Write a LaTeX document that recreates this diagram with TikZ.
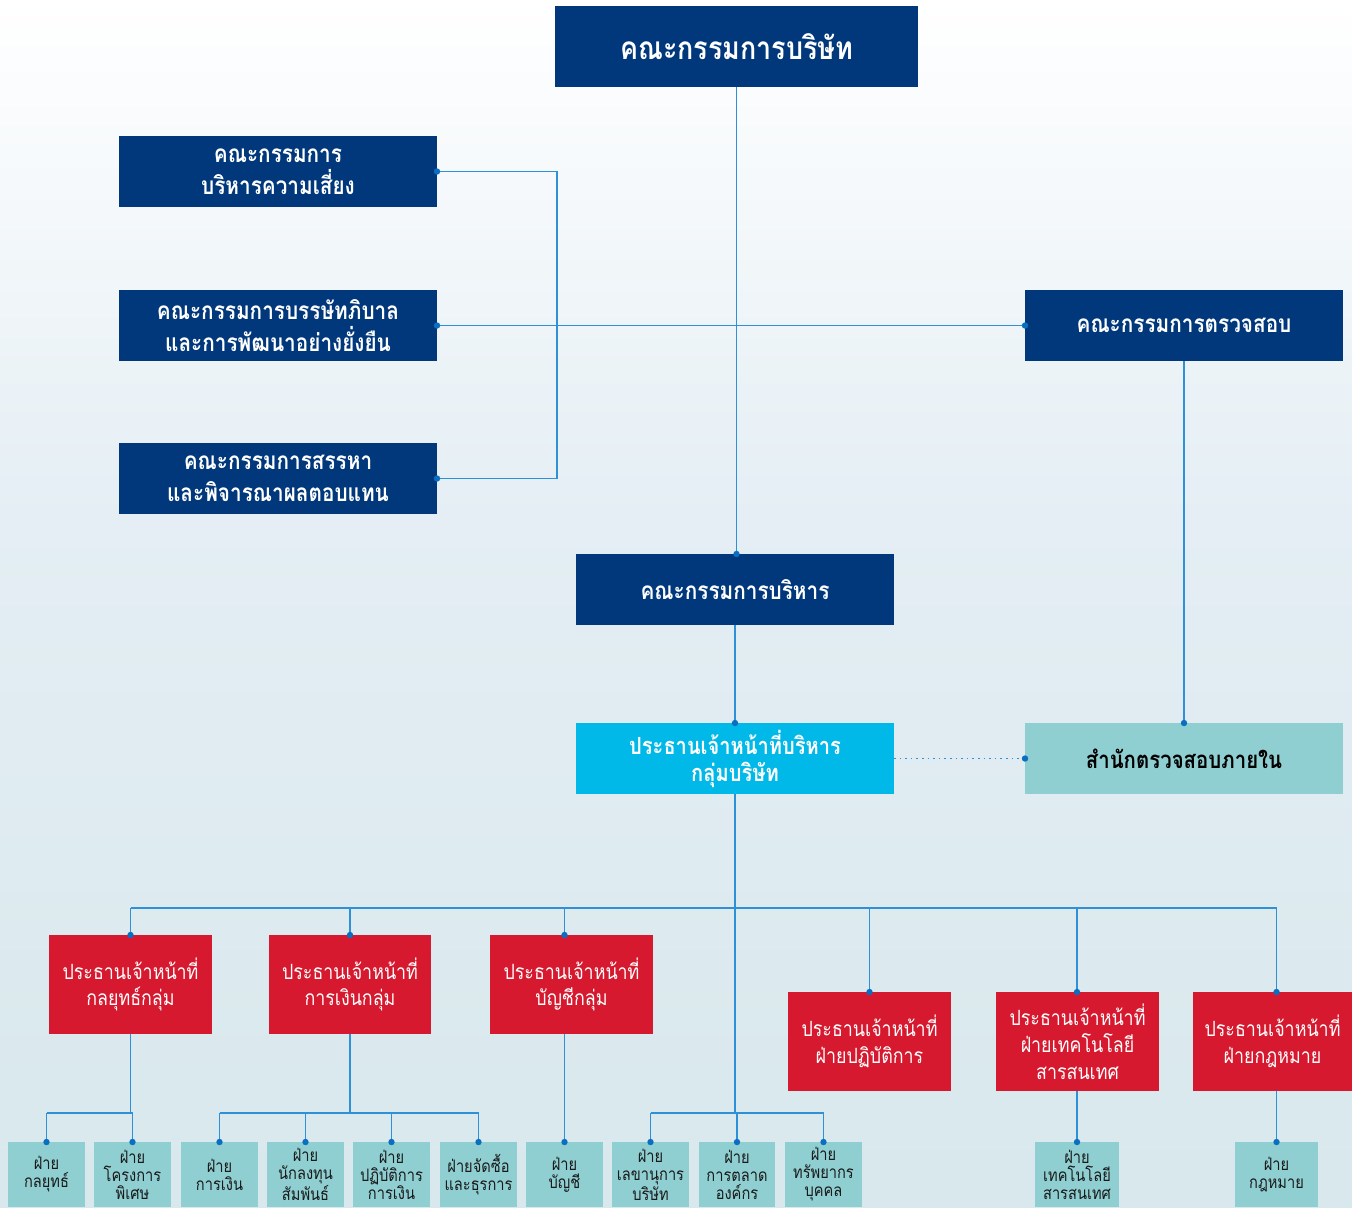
\documentclass[tikz,border=0pt]{standalone}
\usepackage{fontspec}
\newfontfamily\thai[Script=Thai,FakeStretch=0.85]{Loma}
\definecolor{navy}{HTML}{00387B}
\definecolor{redc}{HTML}{D6192E}
\definecolor{cyanc}{HTML}{00B9E8}
\definecolor{tealc}{HTML}{8FCFD2}
\definecolor{linec}{HTML}{2E90D6}
\definecolor{dotc}{HTML}{0B6FC1}
\definecolor{bgmid}{HTML}{E4EEF4}
\definecolor{bgbot}{HTML}{D8E8EC}
\newcommand\mkbox[7]{\node[#6, minimum width={(#4-#2)*0.5pt}, minimum height={(#5-#3)*0.5pt}] (#1) at ({(#2+#4)/2},{(#3+#5)/2}) {#7};}
\newcommand\dt[1]{\fill[dotc] (#1) circle (3.2);}
\begin{document}
\begin{tikzpicture}[x=0.5pt,y=-0.5pt,
  box/.style={inner sep=0pt, outer sep=0pt, align=center},
  navybox/.style={box, fill=navy, text=white},
  bigbox/.style={navybox, font={\thai\bfseries\fontsize{15.8}{18}\selectfont}},
  combox/.style={navybox, font={\thai\bfseries\fontsize{12.2}{16}\selectfont}},
  ceobox/.style={box, fill=cyanc, text=white, font={\thai\bfseries\fontsize{11.8}{13.5}\selectfont}},
  iabox/.style={box, fill=tealc, text=black, font={\thai\bfseries\fontsize{12}{13.5}\selectfont}},
  redbox/.style={box, fill=redc, text=white, font={\thai\fontsize{10.5}{13.4}\selectfont}},
  divbox/.style={box, fill=tealc, text=black!90, font={\thai\fontsize{8.6}{9}\selectfont}},
  conn/.style={draw=linec, line width=0.8pt},
  dotconn/.style={conn, dotted, line width=0.8pt}
]
\useasboundingbox (0,0) rectangle (1352,1207);
\shade[top color=white, bottom color=bgmid] (0,0) rectangle (1352,520);
\shade[top color=bgmid, bottom color=bgbot] (0,520) rectangle (1352,1207);

% top level
\mkbox{board}{555}{6}{918}{87}{bigbox}{คณะกรรมการบริษัท}
\mkbox{risk}{119}{136}{437}{207}{combox}{คณะกรรมการ\\บริหารความเสี่ยง}
\mkbox{gov}{119}{290}{437}{361}{combox}{คณะกรรมการบรรษัทภิบาล\\และการพัฒนาอย่างยั่งยืน}
\mkbox{nom}{119}{443}{437}{514}{combox}{คณะกรรมการสรรหา\\และพิจารณาผลตอบแทน}
\mkbox{audit}{1025}{290}{1343}{361}{combox}{คณะกรรมการตรวจสอบ}
\mkbox{exec}{576}{554}{894}{625}{combox}{คณะกรรมการบริหาร}
\mkbox{ceo}{576}{723}{894}{794}{ceobox}{ประธานเจ้าหน้าที่บริหาร\\กลุ่มบริษัท}
\mkbox{ia}{1025}{723}{1343}{794}{iabox}{สำนักตรวจสอบภายใน}

% chiefs
\mkbox{r1}{49}{935}{212}{1034}{redbox}{ประธานเจ้าหน้าที่\\กลยุทธ์กลุ่ม}
\mkbox{r2}{269}{935}{431}{1034}{redbox}{ประธานเจ้าหน้าที่\\การเงินกลุ่ม}
\mkbox{r3}{490}{935}{653}{1034}{redbox}{ประธานเจ้าหน้าที่\\บัญชีกลุ่ม}
\mkbox{r4}{788}{992}{951}{1091}{redbox}{ประธานเจ้าหน้าที่\\ฝ่ายปฏิบัติการ}
\mkbox{r5}{996}{992}{1159}{1091}{redbox}{ประธานเจ้าหน้าที่\\ฝ่ายเทคโนโลยี\\สารสนเทศ}
\mkbox{r6}{1193}{992}{1352}{1091}{redbox}{ประธานเจ้าหน้าที่\\ฝ่ายกฎหมาย}

% divisions
\mkbox{b1}{8}{1142}{85}{1207}{divbox}{ฝ่าย\\กลยุทธ์}
\mkbox{b2}{94}{1142}{171}{1207}{divbox}{ฝ่าย\\โครงการ\\พิเศษ}
\mkbox{b3}{181}{1142}{258}{1207}{divbox}{ฝ่าย\\การเงิน}
\mkbox{b4}{267}{1142}{344}{1207}{divbox}{ฝ่าย\\นักลงทุน\\สัมพันธ์}
\mkbox{b5}{353}{1142}{430}{1207}{divbox}{ฝ่าย\\ปฏิบัติการ\\การเงิน}
\mkbox{b6}{440}{1142}{517}{1207}{divbox}{ฝ่ายจัดซื้อ\\และธุรการ}
\mkbox{b7}{526}{1142}{603}{1207}{divbox}{ฝ่าย\\บัญชี}
\mkbox{b8}{612}{1142}{689}{1207}{divbox}{ฝ่าย\\เลขานุการ\\บริษัท}
\mkbox{b9}{699}{1142}{775}{1207}{divbox}{ฝ่าย\\การตลาด\\องค์กร}
\mkbox{b10}{785}{1142}{862}{1207}{divbox}{ฝ่าย\\ทรัพยากร\\บุคคล}
\mkbox{b11}{1035}{1142}{1119}{1207}{divbox}{ฝ่าย\\เทคโนโลยี\\สารสนเทศ}
\mkbox{b12}{1235}{1142}{1318}{1207}{divbox}{ฝ่าย\\กฎหมาย}

\coordinate (bus) at (0,908);
\coordinate (sub) at (0,1113);

% connectors top
\draw[conn] (board.south) -- (exec.north -| board.south);
\draw[conn] (gov.east) -- (audit.west);
\draw[conn] (risk.east) -- ++(120,0) |- (nom.east);
\draw[conn] (audit.south) -- (ia.north);
\draw[conn] (exec.south) -- (ceo.north);
\draw[dotconn] (ceo.east) -- (ia.west);

% bus
\draw[conn] (ceo.south) -- (ceo.south |- sub);
\draw[conn] (bus -| r1.north) -- (bus -| b12.north);
\draw[conn] (bus -| r1.north) -- (r1.north);
\draw[conn] (bus -| r2.north) -- (r2.north);
\draw[conn] (bus -| b7.north) -- (r3.north -| b7.north);
\draw[conn] (bus -| r4.north) -- (r4.north);
\draw[conn] (bus -| b11.north) -- (r5.north -| b11.north);
\draw[conn] (bus -| b12.north) -- (r6.north -| b12.north);

% groups
\draw[conn] (r1.south) -- (r1.south |- sub);
\draw[conn] (sub -| b1.north) -- (sub -| b2.north);
\draw[conn] (sub -| b1.north) -- (b1.north);
\draw[conn] (sub -| b2.north) -- (b2.north);

\draw[conn] (r2.south) -- (r2.south |- sub);
\draw[conn] (sub -| b3.north) -- (sub -| b6.north);
\foreach \b in {b3,b4,b5,b6} \draw[conn] (sub -| \b.north) -- (\b.north);

\draw[conn] (r3.south -| b7.north) -- (b7.north);

\draw[conn] (sub -| b8.north) -- (sub -| b10.north);
\foreach \b in {b8,b9,b10} \draw[conn] (sub -| \b.north) -- (\b.north);

\draw[conn] (r5.south -| b11.north) -- (b11.north);
\draw[conn] (r6.south -| b12.north) -- (b12.north);

% dots
\dt{risk.east}\dt{gov.east}\dt{nom.east}\dt{audit.west}
\dt{exec.north -| board.south}\dt{ceo.north}\dt{ia.north}\dt{ia.west}
\dt{r1.north}\dt{r2.north}\dt{r3.north -| b7.north}\dt{r4.north}\dt{r5.north -| b11.north}\dt{r6.north -| b12.north}
\foreach \b in {b1,b2,b3,b4,b5,b6,b7,b8,b9,b10,b11,b12} {\dt{\b.north}}
\end{tikzpicture}
\end{document}
